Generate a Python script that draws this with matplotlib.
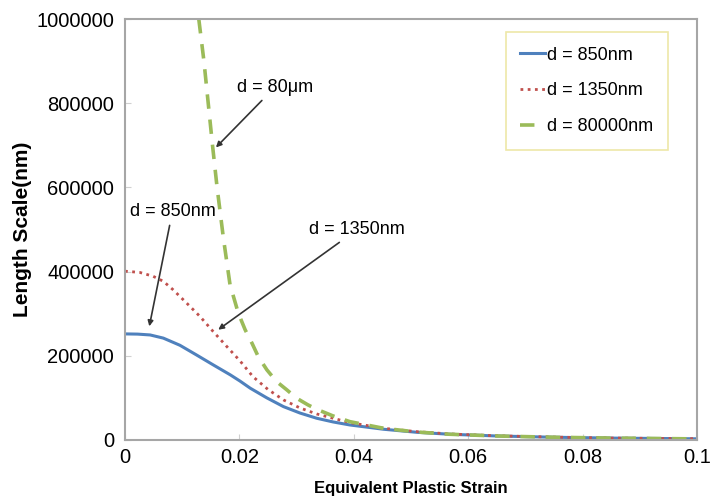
import matplotlib
matplotlib.use("Agg")
import matplotlib.pyplot as plt

plt.rcParams['font.family'] = ['Liberation Sans', 'DejaVu Sans']

# Data
strain_850 = [0.0, 0.0022, 0.0044, 0.0067, 0.0096, 0.0125, 0.0154, 0.0184, 0.0201, 0.0219, 0.0248, 0.0277,
              0.0306, 0.0335, 0.0364, 0.0393, 0.0452, 0.051, 0.0568, 0.065, 0.075, 0.085, 0.100]
ls_850 = [252000, 251500, 249500, 242000, 225000, 202000, 178600, 154800, 140000, 123000, 100000, 79300,
          64000, 51700, 42800, 35700, 25500, 18300, 13600, 9500, 6500, 4500, 2800]

strain_1350 = [0.0, 0.0026, 0.0049, 0.0067, 0.0084, 0.0108, 0.0131, 0.0154, 0.0178, 0.0201, 0.0224, 0.025,
               0.0277, 0.0306, 0.0335, 0.0393, 0.0452, 0.051, 0.0568, 0.065, 0.075, 0.085, 0.100]
ls_1350 = [401000, 398000, 389000, 377000, 357000, 325000, 293600, 257900, 222000, 188000, 150000, 120000,
           95200, 76000, 61900, 41300, 27800, 19800, 14300, 10000, 6800, 4600, 3000]

strain_80000 = [0.0129, 0.0138, 0.01455, 0.0153, 0.0161, 0.0172, 0.01836, 0.0198, 0.0210, 0.0222, 0.0233,
                0.0248, 0.0265, 0.0283, 0.0300, 0.0320, 0.0335, 0.0364, 0.0393, 0.0452, 0.051, 0.0568,
                0.065, 0.075, 0.085, 0.100]
ls_80000 = [1000000, 900000, 800000, 700000, 600000, 480000, 369000, 301700, 262000, 230000, 198000,
            166700, 138800, 119000, 99300, 83300, 73000, 57000, 43600, 27800, 19000, 13600,
            9500, 6500, 4500, 2600]

labels = ['d = 850nm', 'd = 1350nm', 'd = 80000nm']
x_ticks = [0, 0.02, 0.04, 0.06, 0.08, 0.1]
x_ticklabels = ['0', '0.02', '0.04', '0.06', '0.08', '0.1']
y_ticks = [0, 200000, 400000, 600000, 800000, 1000000]
y_ticklabels = ['0', '200000', '400000', '600000', '800000', '1000000']

fig = plt.figure(figsize=(7.11, 4.98), dpi=100)
ax = fig.add_axes([0.1758, 0.1165, 0.8045, 0.8453])

ax.plot(strain_850, ls_850, color='#4f81bd', lw=2.2, label=labels[0])
ax.plot(strain_1350, ls_1350, color='#c0504d', lw=2.0, ls=(0, (1, 1.6)), label=labels[1])
ax.plot(strain_80000, ls_80000, color='#9bbb59', lw=2.6, ls=(0, (4, 3)), label=labels[2])

ax.set_xlim(0, 0.1)
ax.set_ylim(0, 1000000)
ax.set_xticks(x_ticks)
ax.set_xticklabels(x_ticklabels)
ax.set_yticks(y_ticks)
ax.set_yticklabels(y_ticklabels)
ax.tick_params(direction='in', length=4, color='#d0d0d0', labelsize=14.5, pad=6)
ax.tick_params(axis='y', pad=8)

for sp in ax.spines.values():
    sp.set_color('#a6a6a6')
    sp.set_linewidth(1.5)

ax.set_xlabel('Equivalent Plastic Strain', fontsize=12, fontweight='bold', labelpad=10)
ax.set_ylabel('Length Scale(nm)', fontsize=15, fontweight='bold', labelpad=3)

arrowprops = dict(arrowstyle='-|>', color='#333333', lw=1.2, mutation_scale=8, shrinkA=2, shrinkB=0)
ax.annotate('d = 80\u03bcm', xy=(0.0159, 695000), xytext=(0.0262, 838000),
            ha='center', va='center', fontsize=13, arrowprops=arrowprops)
ax.annotate('d = 850nm', xy=(0.00425, 270000), xytext=(0.0083, 543000),
            ha='center', va='center', fontsize=13, arrowprops=arrowprops)
ax.annotate('d = 1350nm', xy=(0.0163, 262000), xytext=(0.0406, 500000),
            ha='center', va='center', fontsize=13, arrowprops=arrowprops)

leg = ax.legend(loc='upper right', bbox_to_anchor=(0.949, 0.969), fontsize=13,
                handlelength=1.4, handletextpad=0.1, labelspacing=1.05,
                borderpad=0.8, fancybox=False, framealpha=1, borderaxespad=0)
leg.get_frame().set_edgecolor('#eee8a8')
leg.get_frame().set_linewidth(1.2)

fig.savefig('out.png', dpi=100)
